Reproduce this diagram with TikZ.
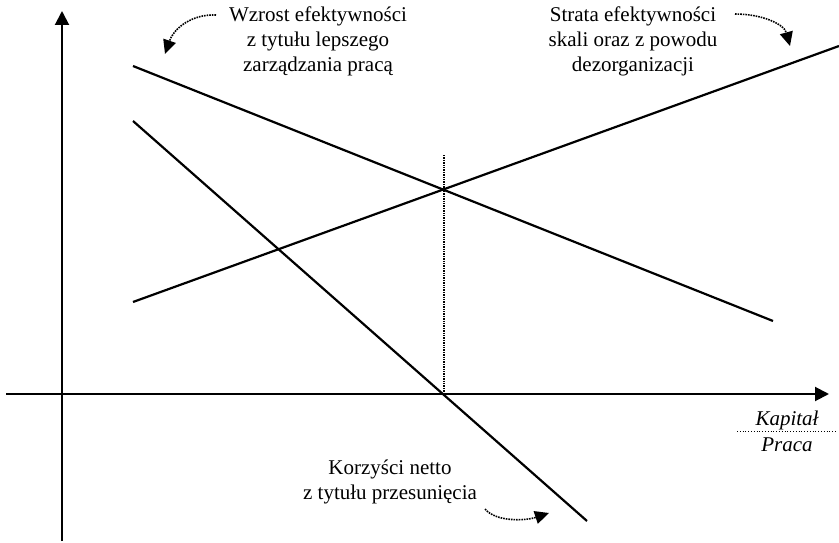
\documentclass[tikz,border=0pt]{standalone}
\usepackage{fontspec}
\setmainfont{Liberation Serif}
\usetikzlibrary{arrows.meta}
\begin{document}
\begin{tikzpicture}[x=1pt,y=-1pt,
  axis/.style={line width=2pt,-{Triangle[length=14pt,width=14pt]}},
  curve/.style={line width=2.2pt},
  note/.style={align=center,inner sep=0pt,font=\fontsize{21}{25}\selectfont},
  hint/.style={densely dotted,line width=1.6pt,-{Triangle[length=14pt,width=13pt]}},
  lab/.style={inner sep=0pt,font=\fontsize{21}{25}\selectfont\itshape}]
\useasboundingbox (0,0) rectangle (839,543);
% axes
\coordinate (ybot) at (62,541);
\coordinate (ytop) at (62,11);
\coordinate (xl) at (6,394);
\coordinate (xr) at (829,394);
\draw[axis] (ybot) -- (ytop);
\draw[axis] (xl) -- (xr);
% lines
\coordinate (a1) at (133,66);
\coordinate (a2) at (773,321);
\coordinate (b1) at (133,121);
\coordinate (b2) at (587,521);
\coordinate (c1) at (133,302);
\coordinate (c2) at (839,46);
\draw[curve] (a1) -- (a2);
\draw[curve] (b1) -- (b2);
\draw[curve] (c1) -- (c2);
% dotted vertical
\coordinate (d1) at (444,155);
\coordinate (d2) at (444,394);
\draw[densely dotted,line width=1.4pt] (d1) -- (d2);
% texts
\node[note] (tl) at (318,41) {Wzrost efektywności\\z tytułu lepszego\\zarządzania pracą};
\node[note] (tr) at (633,41) {Strata efektywności\\skali oraz z powodu\\dezorganizacji};
\node[note] (bt) at (390,482) {Korzyści netto\\z tytułu przesunięcia};
% axis label
\node[lab] (kap) at (787,420) {Kapitał};
\node[lab] (pra) at (787,445) {Praca};
\coordinate (f1) at (737,431);
\coordinate (f2) at (837,431);
\draw[dotted,line width=0.8pt] (f1) -- (f2);
% hint arrows
\coordinate (h1s) at (216,15);
\coordinate (h1e) at (165,54);
\draw[hint] (h1s) .. controls (192,14) and (174,28) .. (h1e);
\coordinate (h2s) at (735,14);
\coordinate (h2e) at (790,46);
\draw[hint] (h2s) .. controls (762,14) and (784,24) .. (h2e);
\coordinate (h3s) at (485,509);
\coordinate (h3e) at (549,513);
\draw[hint] (h3s) .. controls (496,522) and (525,521) .. (h3e);
\end{tikzpicture}
\end{document}
